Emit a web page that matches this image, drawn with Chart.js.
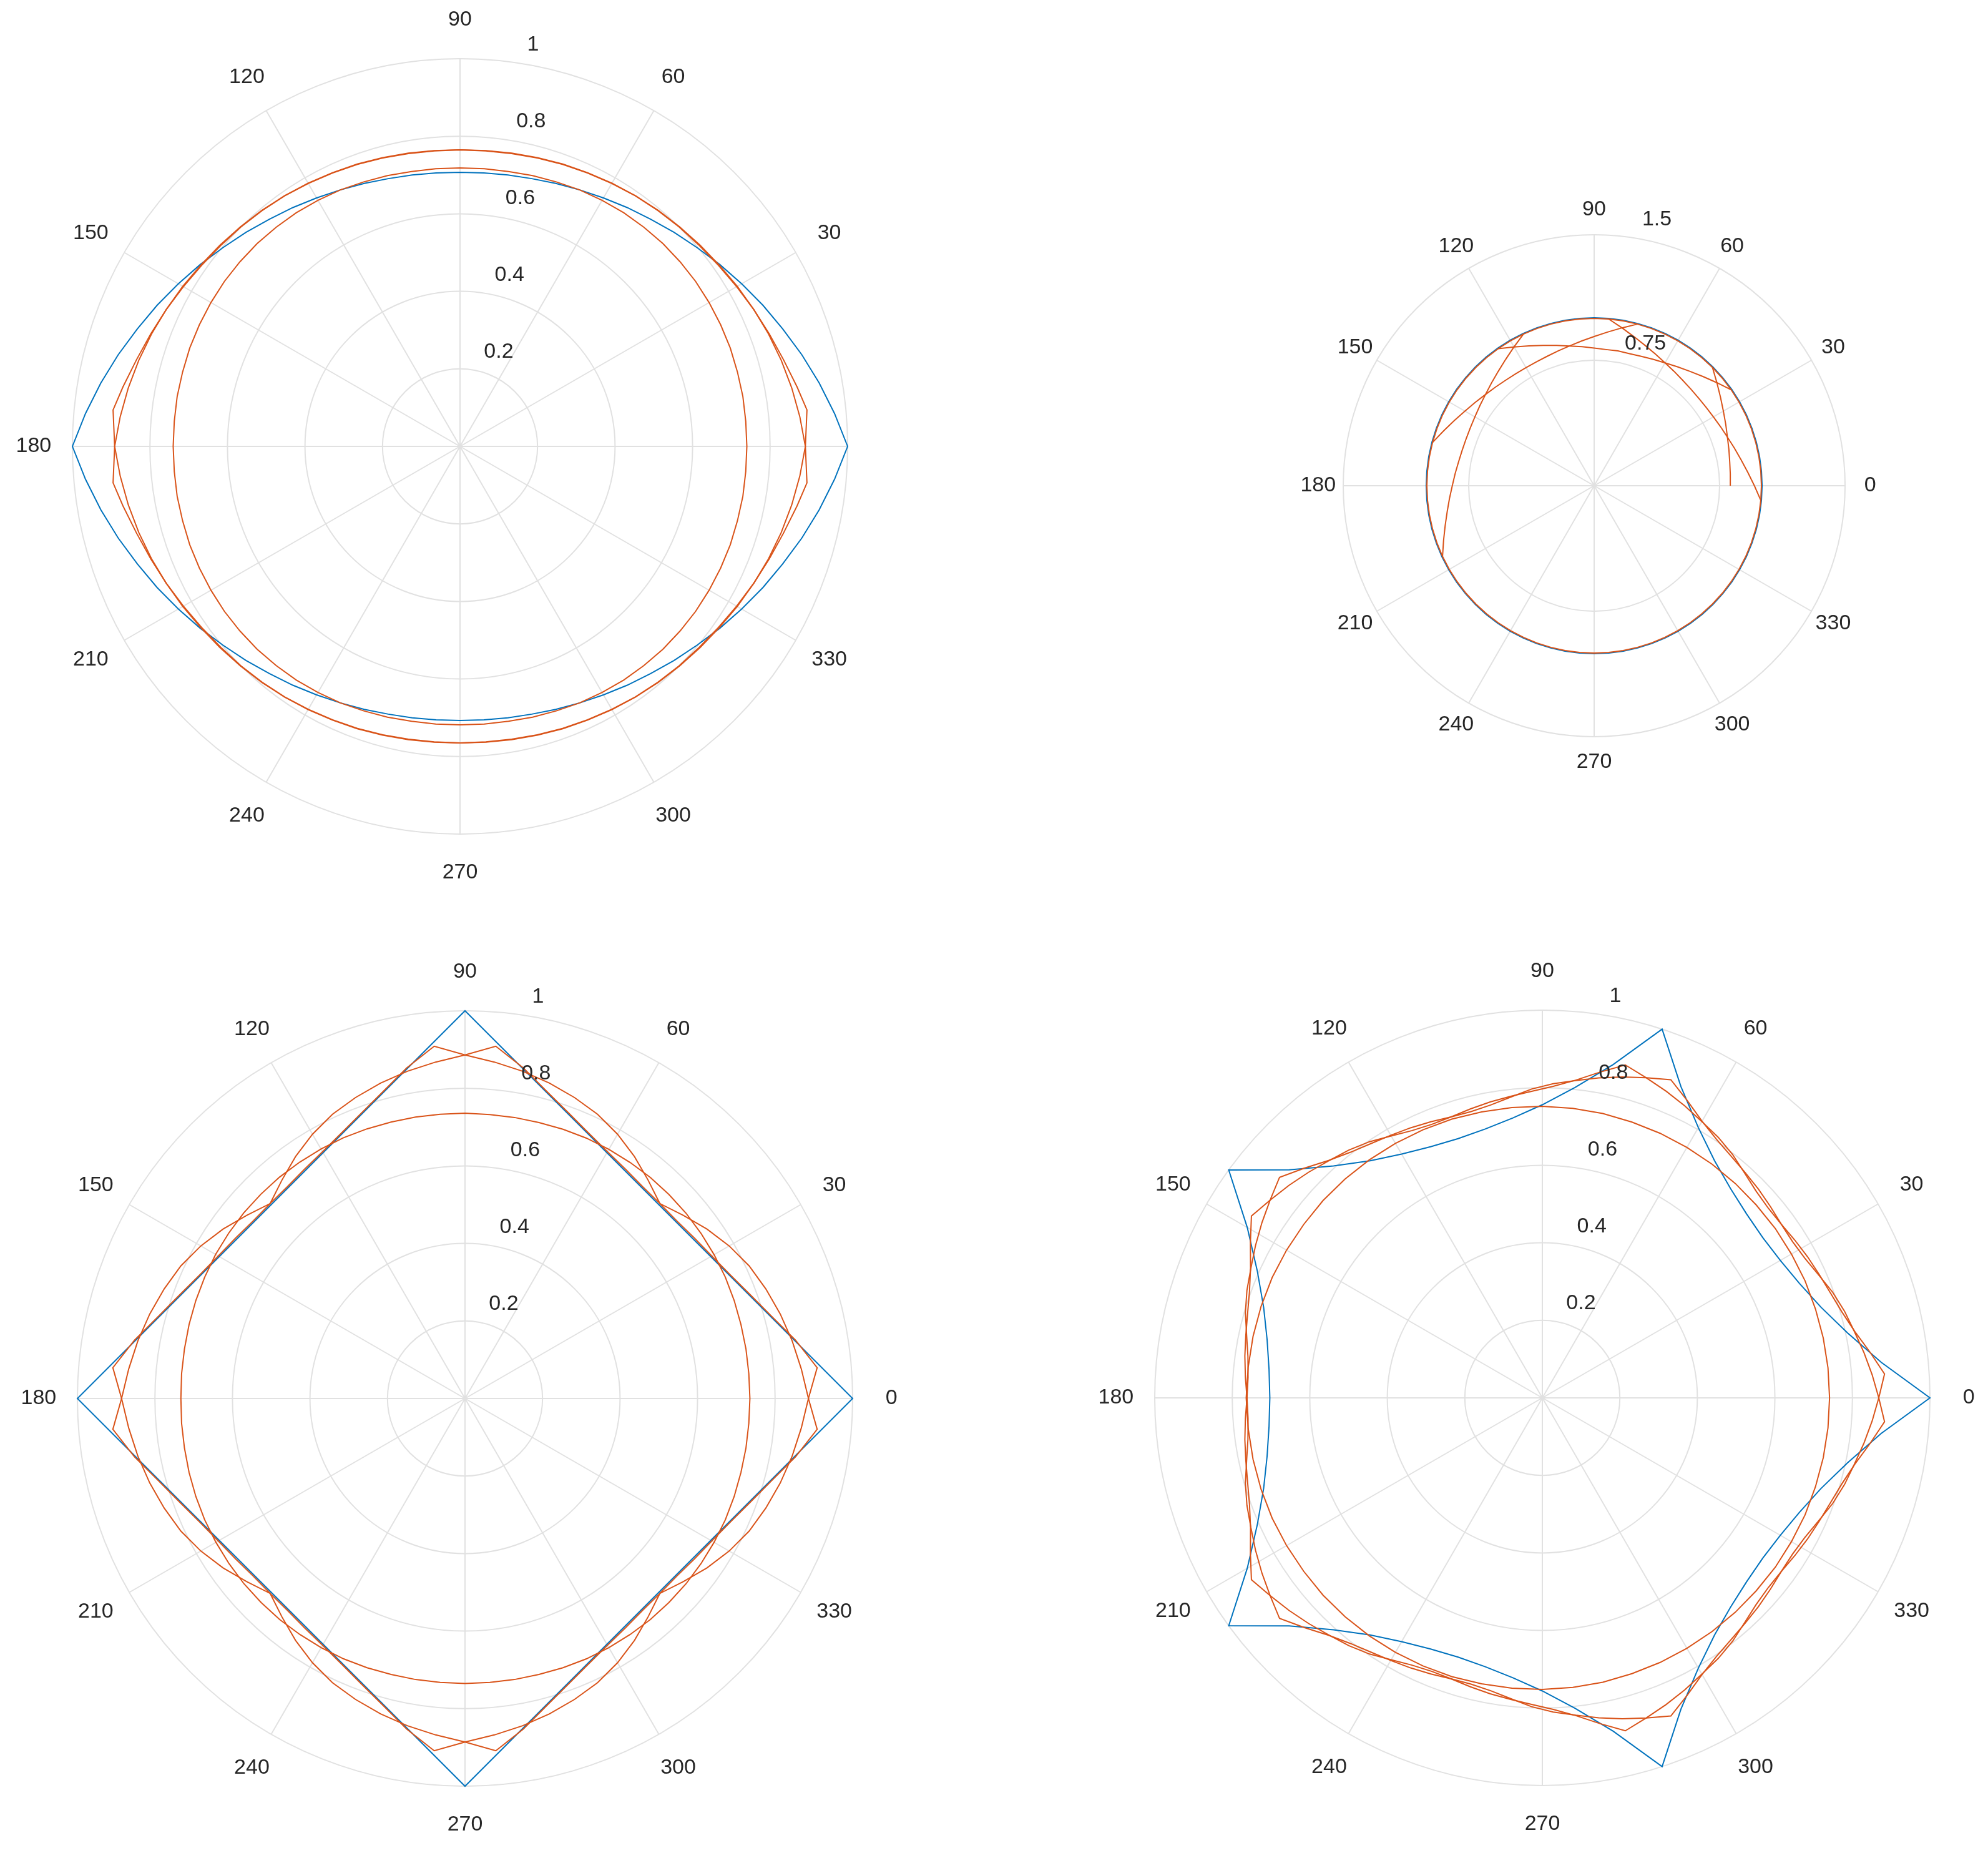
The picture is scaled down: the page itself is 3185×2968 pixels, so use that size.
<!DOCTYPE html>
<html>
<head>
<meta charset="utf-8">
<title>Polar plots</title>
<script src="https://cdn.jsdelivr.net/npm/chart.js@4.4.1/dist/chart.umd.min.js"></script>
<style>
  html, body { margin: 0; padding: 0; background: #fff; }
  body { width: 3185px; height: 2968px; position: relative; overflow: hidden; }
  canvas { position: absolute; }
</style>
</head>
<body>
<canvas id="tl" width="1592" height="1484" style="left:0;top:0;width:1592px;height:1484px"></canvas>
<canvas id="tr" width="1593" height="1484" style="left:1592px;top:0;width:1593px;height:1484px"></canvas>
<canvas id="bl" width="1592" height="1484" style="left:0;top:1484px;width:1592px;height:1484px"></canvas>
<canvas id="br" width="1593" height="1484" style="left:1592px;top:1484px;width:1593px;height:1484px"></canvas>
<script>
const BLUE = '#0072BD';
const ORANGE = '#D95319';
const GRID = '#e1e1e1';
const TEXT = '#262626';
const FONT = '34px "Liberation Sans", Arial, Helvetica, sans-serif';

function step(from, to, by) {
    const out = [];
    for (let a = from; a <= to; a += by) out.push(a);
    return out;
}

// tick labels
const thetaTicks = [0, 30, 60, 90, 120, 150, 180, 210, 240, 270, 300, 330];
const thetaTicksNoZero = [30, 60, 90, 120, 150, 180, 210, 240, 270, 300, 330];
const rTicks = [0.2, 0.4, 0.6, 0.8, 1];
const rTicksWide = [0.75, 1.5];

// ---- top left: 2-gon (lens) ----
const every5 = step(0, 355, 5);
const lensBlue = [1.000, 0.970, 0.941, 0.913, 0.886, 0.862, 0.839, 0.818, 0.798, 0.781, 0.765, 0.752, 0.740, 0.730, 0.722, 0.715, 0.711, 0.708,
    0.707, 0.708, 0.711, 0.715, 0.722, 0.730, 0.740, 0.752, 0.765, 0.781, 0.798, 0.818, 0.839, 0.862, 0.886, 0.913, 0.941, 0.970,
    1.000, 0.970, 0.941, 0.913, 0.886, 0.862, 0.839, 0.818, 0.798, 0.781, 0.765, 0.752, 0.740, 0.730, 0.722, 0.715, 0.711, 0.708,
    0.707, 0.708, 0.711, 0.715, 0.722, 0.730, 0.740, 0.752, 0.765, 0.781, 0.798, 0.818, 0.839, 0.862, 0.886, 0.913, 0.941, 0.970];
const lensInner = [0.740, 0.740, 0.741, 0.741, 0.742, 0.742, 0.742, 0.742, 0.741, 0.740, 0.738, 0.736, 0.733, 0.730, 0.726, 0.723, 0.720, 0.719,
    0.718, 0.719, 0.720, 0.723, 0.726, 0.730, 0.733, 0.736, 0.738, 0.740, 0.741, 0.742, 0.742, 0.742, 0.742, 0.741, 0.741, 0.740,
    0.740, 0.740, 0.741, 0.741, 0.742, 0.742, 0.742, 0.742, 0.741, 0.740, 0.738, 0.736, 0.733, 0.730, 0.726, 0.723, 0.720, 0.719,
    0.718, 0.719, 0.720, 0.723, 0.726, 0.730, 0.733, 0.736, 0.738, 0.740, 0.741, 0.742, 0.742, 0.742, 0.742, 0.741, 0.741, 0.740];
const lensAAngles = [0, 6, 10, 15, 20, 25, 30, 35, 40, 45, 50, 55, 60, 65, 70, 75, 80, 85, 90, 95, 100, 105, 110, 115, 120, 125, 130, 135, 140, 145, 150, 155, 160, 165, 170, 175, 180,
    186, 190, 195, 200, 205, 210, 215, 220, 225, 230, 235, 240, 245, 250, 255, 260, 265, 270, 275, 280, 285, 290, 295, 300, 305, 310, 315, 320, 325, 330, 335, 340, 345, 350, 355];
const lensA = [0.891, 0.900, 0.883, 0.864, 0.849, 0.836, 0.824, 0.814, 0.806, 0.800, 0.794, 0.789, 0.784, 0.779, 0.775, 0.771, 0.768, 0.766, 0.765, 0.765, 0.767, 0.770, 0.774, 0.778, 0.783, 0.789, 0.795, 0.801, 0.808, 0.816, 0.826, 0.836, 0.847, 0.858, 0.869, 0.880, 0.891,
    0.900, 0.883, 0.864, 0.849, 0.836, 0.824, 0.814, 0.806, 0.800, 0.794, 0.789, 0.784, 0.779, 0.775, 0.771, 0.768, 0.766, 0.765, 0.765, 0.767, 0.770, 0.774, 0.778, 0.783, 0.789, 0.795, 0.801, 0.808, 0.816, 0.826, 0.836, 0.847, 0.858, 0.869, 0.880];
const lensBAngles = [0, 5, 10, 15, 20, 25, 30, 35, 40, 45, 50, 55, 60, 65, 70, 75, 80, 85, 90, 95, 100, 105, 110, 115, 120, 125, 130, 135, 140, 145, 150, 155, 160, 165, 170, 174,
    180, 185, 190, 195, 200, 205, 210, 215, 220, 225, 230, 235, 240, 245, 250, 255, 260, 265, 270, 275, 280, 285, 290, 295, 300, 305, 310, 315, 320, 325, 330, 335, 340, 345, 350, 354];
const lensB = [0.891, 0.880, 0.869, 0.858, 0.847, 0.836, 0.826, 0.816, 0.808, 0.801, 0.795, 0.789, 0.783, 0.778, 0.774, 0.770, 0.767, 0.765, 0.765, 0.766, 0.768, 0.771, 0.775, 0.779, 0.784, 0.789, 0.794, 0.800, 0.806, 0.814, 0.824, 0.836, 0.849, 0.864, 0.883, 0.900,
    0.891, 0.880, 0.869, 0.858, 0.847, 0.836, 0.826, 0.816, 0.808, 0.801, 0.795, 0.789, 0.783, 0.778, 0.774, 0.770, 0.767, 0.765, 0.765, 0.766, 0.768, 0.771, 0.775, 0.779, 0.784, 0.789, 0.794, 0.800, 0.806, 0.814, 0.824, 0.836, 0.849, 0.864, 0.883, 0.900];

// ---- top right: unit circle and arcs ----
const ringBlue = [1.004, 1.004, 1.004, 1.004, 1.004, 1.004, 1.004, 1.004, 1.004, 1.004, 1.004, 1.004, 1.004, 1.004, 1.004, 1.004, 1.004, 1.004,
    1.004, 1.004, 1.004, 1.004, 1.004, 1.004, 1.004, 1.004, 1.004, 1.004, 1.004, 1.004, 1.004, 1.004, 1.004, 1.004, 1.004, 1.004,
    1.004, 1.004, 1.004, 1.004, 1.004, 1.004, 1.004, 1.004, 1.004, 1.004, 1.004, 1.004, 1.004, 1.004, 1.004, 1.004, 1.004, 1.004,
    1.004, 1.004, 1.004, 1.004, 1.004, 1.004, 1.004, 1.004, 1.004, 1.004, 1.004, 1.004, 1.004, 1.004, 1.004, 1.004, 1.004, 1.004];
const ringOrange = [1, 1, 1, 1, 1, 1, 1, 1, 1, 1, 1, 1, 1, 1, 1, 1, 1, 1,
    1, 1, 1, 1, 1, 1, 1, 1, 1, 1, 1, 1, 1, 1, 1, 1, 1, 1,
    1, 1, 1, 1, 1, 1, 1, 1, 1, 1, 1, 1, 1, 1, 1, 1, 1, 1,
    1, 1, 1, 1, 1, 1, 1, 1, 1, 1, 1, 1, 1, 1, 1, 1, 1, 1];
const arc1Angles = step(0, 45, 5);
const arc1 = [0.814, 0.817, 0.823, 0.834, 0.848, 0.868, 0.892, 0.922, 0.958, 1.000];
const arc2Angles = [355, 0, 5, 10, 15, 20, 25, 30, 35, 40, 45, 50, 55, 60, 65, 70, 75, 80, 85];
const arc2 = [1.000, 0.958, 0.922, 0.892, 0.868, 0.848, 0.834, 0.823, 0.817, 0.815, 0.817, 0.823, 0.834, 0.848, 0.868, 0.892, 0.922, 0.958, 1.000];
const arc3Angles = step(35, 125, 5);
const arc3 = [1.000, 0.958, 0.922, 0.892, 0.868, 0.848, 0.834, 0.823, 0.817, 0.818, 0.817, 0.823, 0.834, 0.848, 0.868, 0.892, 0.922, 0.958, 1.000];
const arc4Angles = step(75, 165, 5);
const arc4 = [1.000, 0.958, 0.922, 0.892, 0.868, 0.848, 0.834, 0.823, 0.817, 0.815, 0.817, 0.823, 0.834, 0.848, 0.868, 0.892, 0.922, 0.958, 1.000];
const arc5Angles = step(115, 205, 5);
const arc5 = [1.000, 0.958, 0.922, 0.892, 0.868, 0.848, 0.834, 0.823, 0.817, 0.815, 0.817, 0.823, 0.834, 0.848, 0.868, 0.892, 0.922, 0.958, 1.000];

// ---- bottom left: square ----
const squareAngles = [0, 90, 180, 270];
const squareBlue = [1, 1, 1, 1];
const squareInner = [0.735, 0.735, 0.736, 0.737, 0.739, 0.741, 0.742, 0.743, 0.744, 0.744, 0.744, 0.743, 0.742, 0.741, 0.739, 0.737, 0.736, 0.735,
    0.736, 0.736, 0.737, 0.738, 0.740, 0.742, 0.743, 0.744, 0.745, 0.745, 0.745, 0.744, 0.743, 0.741, 0.739, 0.737, 0.735, 0.734,
    0.733, 0.734, 0.735, 0.737, 0.739, 0.741, 0.742, 0.743, 0.744, 0.744, 0.744, 0.743, 0.742, 0.741, 0.739, 0.737, 0.736, 0.735,
    0.735, 0.735, 0.736, 0.737, 0.739, 0.741, 0.742, 0.743, 0.744, 0.744, 0.744, 0.743, 0.742, 0.741, 0.739, 0.737, 0.736, 0.735];
const squareA = [0.886, 0.912, 0.866, 0.819, 0.783, 0.755, 0.735, 0.722, 0.713, 0.711, 0.735, 0.762, 0.787, 0.809, 0.826, 0.842, 0.857, 0.871,
    0.886, 0.912, 0.866, 0.819, 0.783, 0.755, 0.735, 0.722, 0.713, 0.711, 0.735, 0.762, 0.787, 0.809, 0.826, 0.842, 0.857, 0.871,
    0.886, 0.912, 0.866, 0.819, 0.783, 0.755, 0.735, 0.722, 0.713, 0.711, 0.735, 0.762, 0.787, 0.809, 0.826, 0.842, 0.857, 0.871,
    0.886, 0.912, 0.866, 0.819, 0.783, 0.755, 0.735, 0.722, 0.713, 0.711, 0.735, 0.762, 0.787, 0.809, 0.826, 0.842, 0.857, 0.871];
const squareB = [0.886, 0.871, 0.857, 0.842, 0.826, 0.809, 0.787, 0.762, 0.735, 0.711, 0.713, 0.722, 0.735, 0.755, 0.783, 0.819, 0.866, 0.912,
    0.886, 0.871, 0.857, 0.842, 0.826, 0.809, 0.787, 0.762, 0.735, 0.711, 0.713, 0.722, 0.735, 0.755, 0.783, 0.819, 0.866, 0.912,
    0.886, 0.871, 0.857, 0.842, 0.826, 0.809, 0.787, 0.762, 0.735, 0.711, 0.713, 0.722, 0.735, 0.755, 0.783, 0.819, 0.866, 0.912,
    0.886, 0.871, 0.857, 0.842, 0.826, 0.809, 0.787, 0.762, 0.735, 0.711, 0.713, 0.722, 0.735, 0.755, 0.783, 0.819, 0.866, 0.912];

// ---- bottom right: pentagon ----
const every6 = step(0, 354, 6);
const every4 = step(0, 356, 4);
const pentBlue = [1.000, 0.879, 0.805, 0.756, 0.726, 0.709, 0.703, 0.709, 0.726, 0.756, 0.805, 0.879,
    1.000, 0.879, 0.805, 0.756, 0.726, 0.709, 0.703, 0.709, 0.726, 0.756, 0.805, 0.879,
    1.000, 0.879, 0.805, 0.756, 0.726, 0.709, 0.703, 0.709, 0.726, 0.756, 0.805, 0.879,
    1.000, 0.879, 0.805, 0.756, 0.726, 0.709, 0.703, 0.709, 0.726, 0.756, 0.805, 0.879,
    1.000, 0.879, 0.805, 0.756, 0.726, 0.709, 0.703, 0.709, 0.726, 0.756, 0.805, 0.879];
const pentInner = [0.741, 0.741, 0.741, 0.741, 0.742, 0.742, 0.743, 0.743, 0.744, 0.745, 0.746, 0.747, 0.748, 0.750, 0.751,
    0.752, 0.753, 0.754, 0.756, 0.757, 0.758, 0.759, 0.760, 0.761, 0.761, 0.762, 0.763, 0.763, 0.763, 0.763,
    0.764, 0.763, 0.763, 0.763, 0.763, 0.762, 0.761, 0.761, 0.760, 0.759, 0.758, 0.757, 0.756, 0.754, 0.753,
    0.752, 0.751, 0.750, 0.748, 0.747, 0.746, 0.745, 0.744, 0.743, 0.743, 0.742, 0.742, 0.741, 0.741, 0.741];
const pentA = [0.868, 0.885, 0.853, 0.824, 0.804, 0.791, 0.782, 0.775, 0.768, 0.762, 0.761, 0.767, 0.780, 0.797, 0.811, 0.823, 0.838, 0.853,
    0.868, 0.885, 0.853, 0.824, 0.804, 0.791, 0.782, 0.775, 0.768, 0.762, 0.761, 0.767, 0.780, 0.797, 0.811, 0.823, 0.838, 0.853,
    0.868, 0.885, 0.853, 0.824, 0.804, 0.791, 0.782, 0.775, 0.768, 0.762, 0.761, 0.767, 0.780, 0.797, 0.811, 0.823, 0.838, 0.853,
    0.868, 0.885, 0.853, 0.824, 0.804, 0.791, 0.782, 0.775, 0.768, 0.762, 0.761, 0.767, 0.780, 0.797, 0.811, 0.823, 0.838, 0.853,
    0.868, 0.885, 0.853, 0.824, 0.804, 0.791, 0.782, 0.775, 0.768, 0.762, 0.761, 0.767, 0.780, 0.797, 0.811, 0.823, 0.838, 0.853];
const pentB = [0.868, 0.853, 0.838, 0.823, 0.811, 0.797, 0.780, 0.767, 0.761, 0.762, 0.768, 0.775, 0.782, 0.791, 0.804, 0.824, 0.853, 0.885,
    0.868, 0.853, 0.838, 0.823, 0.811, 0.797, 0.780, 0.767, 0.761, 0.762, 0.768, 0.775, 0.782, 0.791, 0.804, 0.824, 0.853, 0.885,
    0.868, 0.853, 0.838, 0.823, 0.811, 0.797, 0.780, 0.767, 0.761, 0.762, 0.768, 0.775, 0.782, 0.791, 0.804, 0.824, 0.853, 0.885,
    0.868, 0.853, 0.838, 0.823, 0.811, 0.797, 0.780, 0.767, 0.761, 0.762, 0.768, 0.775, 0.782, 0.791, 0.804, 0.824, 0.853, 0.885,
    0.868, 0.853, 0.838, 0.823, 0.811, 0.797, 0.780, 0.767, 0.761, 0.762, 0.768, 0.775, 0.782, 0.791, 0.804, 0.824, 0.853, 0.885];

// radar labels run clockwise from the top (90 deg), so angle a sits at index (90 - a) / stepDeg
function indexOf(angle, stepDeg) {
    const n = 360 / stepDeg;
    return ((((90 - angle) / stepDeg) % n) + n) % n;
}

function onGrid(angles, radii, stepDeg) {
    const data = new Array(360 / stepDeg).fill(null);
    angles.forEach((a, i) => { data[indexOf(a, stepDeg)] = radii[i]; });
    return data;
}

function gridLabels(stepDeg) {
    return Array.from({ length: 360 / stepDeg }, (_, i) => (((90 - i * stepDeg) % 360) + 360) % 360);
}

function curve(angles, radii, color, stepDeg, closed) {
    return {
        data: onGrid(angles, radii, stepDeg),
        borderColor: color,
        borderWidth: 2,
        pointRadius: 0,
        pointHoverRadius: 0,
        fill: false,
        tension: 0,
        spanGaps: closed !== false,
        order: color === BLUE ? 1 : 0,
    };
}

function polarLabels(thetaList, rList, stepDeg) {
    return {
        id: 'polarLabels',
        afterDatasetsDraw(chart) {
            const s = chart.scales.r;
            const ctx = chart.ctx;
            ctx.save();
            ctx.font = FONT;
            ctx.fillStyle = TEXT;
            ctx.textAlign = 'center';
            ctx.textBaseline = 'middle';
            thetaList.forEach((t) => {
                const p = s.getPointPosition(indexOf(t, stepDeg), s.drawingArea * 1.1);
                ctx.fillText(String(t), p.x, p.y);
            });
            // radius labels sit along the 82 deg direction, like the original
            const a = 82 * Math.PI / 180;
            ctx.textAlign = 'left';
            rList.forEach((v) => {
                const d = s.getDistanceFromCenterForValue(v);
                ctx.fillText(String(v), s.xCenter + d * Math.cos(a) + 21, s.yCenter - d * Math.sin(a) - 28);
            });
            ctx.restore();
        },
    };
}

function polarChart(id, datasets, o) {
    const canvas = document.getElementById(id);
    const W = canvas.width;
    const H = canvas.height;
    return new Chart(canvas.getContext('2d'), {
        type: 'radar',
        data: { labels: gridLabels(o.step), datasets },
        options: {
            responsive: false,
            animation: false,
            devicePixelRatio: 1,
            layout: {
                padding: { left: o.cx - o.R, top: o.cy - o.R, right: W - o.cx - o.R, bottom: H - o.cy - o.R },
            },
            plugins: { legend: { display: false }, tooltip: { enabled: false } },
            scales: {
                r: {
                    min: 0,
                    max: o.max,
                    ticks: { display: false, stepSize: o.tickStep },
                    grid: { circular: true, color: GRID, lineWidth: 2 },
                    angleLines: {
                        display: true,
                        color: GRID,
                        lineWidth: (ctx) => (ctx.index % (30 / o.step) === 0 ? 2 : 0),
                    },
                    pointLabels: { display: false },
                },
            },
        },
        plugins: [polarLabels(o.thetaLabels, o.rLabels, o.step)],
    });
}

polarChart('tl', [
    curve(every5, lensBlue, BLUE, 1),
    curve(every5, lensInner, ORANGE, 1),
    curve(lensAAngles, lensA, ORANGE, 1),
    curve(lensBAngles, lensB, ORANGE, 1),
], { cx: 737, cy: 715, R: 621, max: 1, tickStep: 0.2, step: 1, thetaLabels: thetaTicksNoZero, rLabels: rTicks });

polarChart('tr', [
    curve(every5, ringBlue, BLUE, 5),
    curve(every5, ringOrange, ORANGE, 5),
    curve(arc1Angles, arc1, ORANGE, 5, false),
    curve(arc2Angles, arc2, ORANGE, 5, false),
    curve(arc3Angles, arc3, ORANGE, 5, false),
    curve(arc4Angles, arc4, ORANGE, 5, false),
    curve(arc5Angles, arc5, ORANGE, 5, false),
], { cx: 962, cy: 778, R: 402, max: 1.5, tickStep: 0.75, step: 5, thetaLabels: thetaTicks, rLabels: rTicksWide });

polarChart('bl', [
    curve(squareAngles, squareBlue, BLUE, 1),
    curve(every5, squareInner, ORANGE, 1),
    curve(every5, squareA, ORANGE, 1),
    curve(every5, squareB, ORANGE, 1),
], { cx: 745, cy: 756, R: 621, max: 1, tickStep: 0.2, step: 1, thetaLabels: thetaTicks, rLabels: rTicks });

polarChart('br', [
    curve(every6, pentBlue, BLUE, 1),
    curve(every6, pentInner, ORANGE, 1),
    curve(every4, pentA, ORANGE, 1),
    curve(every4, pentB, ORANGE, 1),
], { cx: 879, cy: 755, R: 621, max: 1, tickStep: 0.2, step: 1, thetaLabels: thetaTicks, rLabels: rTicks });
</script>
</body>
</html>
